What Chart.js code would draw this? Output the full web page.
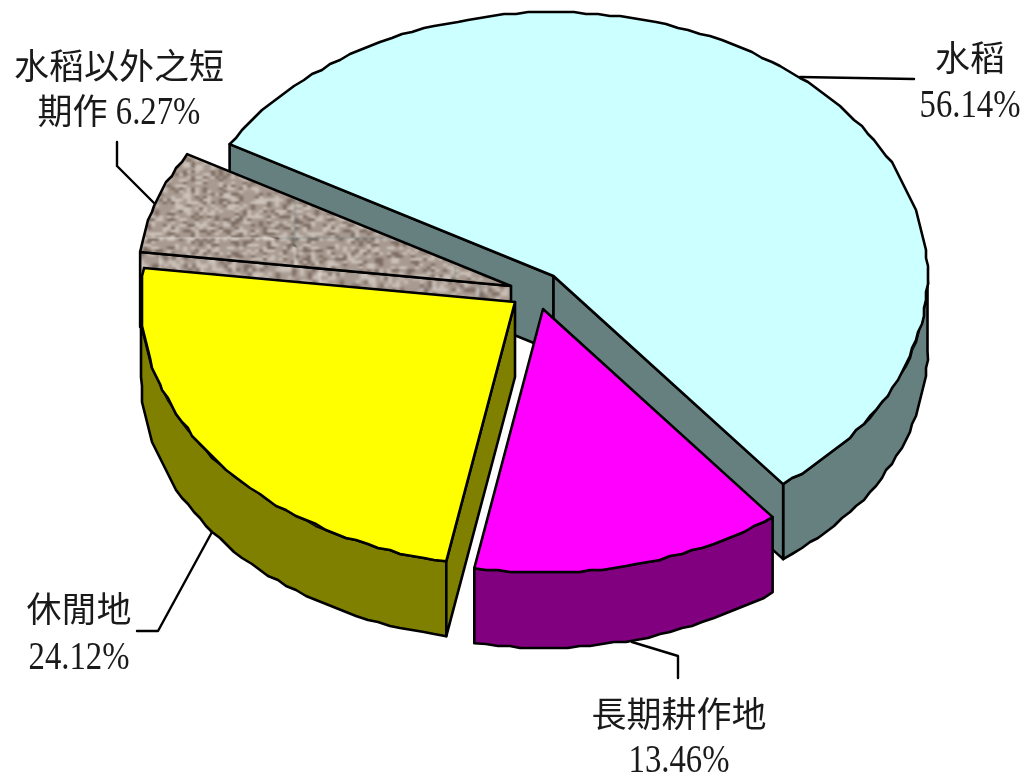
<!DOCTYPE html>
<html>
<head>
<meta charset="utf-8">
<style>html,body{margin:0;padding:0;background:#fff}canvas{display:block}</style>
<script src="https://cdn.jsdelivr.net/npm/chart.js@4"></script>
</head>
<body>
<canvas id="c" width="1024" height="776"></canvas>
<script>
// ---- data ----
const categories = ['水稻', '長期耕作地', '休閒地', '水稻以外之短期作'];
const shares = [56.14, 13.46, 24.12, 6.27];
const labelLines = [
  ['水稻', '56.14%'],
  ['長期耕作地', '13.46%'],
  ['休閒地', '24.12%'],
  ['水稻以外之短', '期作 6.27%']
];
// ---- layout and style ----
const topColors = ['#CCFFFF', '#FF00FF', '#FFFF00', null];
const sideColors = ['#668080', '#800080', '#808000', null];
const apexes = [[553.5, 276], [543, 309], [515, 302], [511, 286]];
const labelCentres = [[970, 71, 117], [679, 727, 772], [79, 622, 669], [119, 79, 124]];
const leaders = [
  [[800, 77], [914, 79]],
  [[632, 642], [678, 656], [678, 678]],
  [[212, 532], [158, 631], [137, 631]],
  [[155, 204], [117, 166], [117, 142]]
];
const RADIUS = 374, SQUASH = 0.705, DEPTH = 75, ROTATION = -60;
const paintOrder = [0, 3, 2, 1];

function granite() {
  const size = 160, c = document.createElement('canvas');
  c.width = c.height = size;
  const g = c.getContext('2d');
  const raw = document.createElement('canvas');
  raw.width = raw.height = size;
  const r = raw.getContext('2d');
  r.fillStyle = '#A89A90';
  r.fillRect(0, 0, size, size);
  let s = 12345;
  const next = () => { s = (s * 16807) % 2147483647; return s / 2147483647; };
  for (let y = 0; y < size; y += 4) for (let x = 0; x < size; x += 4) {
    const v = next();
    if (v < 0.2) r.fillStyle = '#7A6A60';
    else if (v > 0.72) r.fillStyle = '#CCC2BA';
    else continue;
    r.fillRect(x, y, 4, 4);
  }
  g.filter = 'blur(1.5px)';
  for (const dx of [-size, 0, size]) for (const dy of [-size, 0, size]) g.drawImage(raw, dx, dy);
  return g.createPattern(c, 'repeat');
}
const texture = granite();
const fills = topColors.map(c => c || texture);
const walls = sideColors.map(c => c || texture);

function edgePoints(a0, a1, apex, depth) {
  const pts = [];
  const n = Math.max(2, Math.round(Math.abs(a1 - a0) * RADIUS * 0.85 / 10));
  for (let i = 0; i <= n; i++) {
    const a = a0 + (a1 - a0) * i / n;
    let x = apex[0] + RADIUS * Math.cos(a);
    let y = apex[1] + RADIUS * SQUASH * Math.sin(a) + depth;
    if (i > 0 && i < n) { x = Math.round(x / 2) * 2; y = Math.round(y / 2) * 2; }
    pts.push([x, y]);
  }
  return pts;
}
function poly(ctx, pts, fill) {
  ctx.beginPath();
  pts.forEach((p, i) => i ? ctx.lineTo(p[0], p[1]) : ctx.moveTo(p[0], p[1]));
  ctx.closePath();
  if (fill) { ctx.fillStyle = fill; ctx.fill(); }
  ctx.stroke();
}
function radialFace(ctx, apex, a, fill) {
  const e = [apex[0] + RADIUS * Math.cos(a), apex[1] + RADIUS * SQUASH * Math.sin(a)];
  poly(ctx, [apex, e, [e[0], e[1] + DEPTH], [apex[0], apex[1] + DEPTH]], fill);
}
function drawRuns(ctx, text, cx, y) {
  const runs = text.match(/[\u2E80-\u9FFF]+|[^\u2E80-\u9FFF]+/g);
  const isCjk = t => /[\u2E80-\u9FFF]/.test(t);
  const LATIN_X = 0.84;
  const widthOf = t => {
    ctx.font = isCjk(t) ? '35px "Noto Sans CJK TC"' : '39px "Liberation Serif"';
    return ctx.measureText(t).width * (isCjk(t) ? 1 : LATIN_X);
  };
  let w = 0;
  runs.forEach(t => { w += widthOf(t); });
  let x = cx - w / 2;
  ctx.textAlign = 'left';
  ctx.textBaseline = 'alphabetic';
  runs.forEach(t => {
    const tw = widthOf(t);
    ctx.save();
    ctx.translate(x, y);
    if (!isCjk(t)) ctx.scale(LATIN_X, 1);
    ctx.fillText(t, 0, 0);
    ctx.restore();
    x += tw;
  });
}

const pie3d = {
  id: 'pie3d',
  beforeDatasetsDraw(chart) {
    const ctx = chart.ctx, arcs = chart.getDatasetMeta(0).data;
    ctx.save();
    ctx.lineJoin = 'round';
    ctx.lineCap = 'round';
    ctx.strokeStyle = '#000';
    ctx.lineWidth = 2.4;
    leaders.forEach(l => {
      ctx.beginPath();
      l.forEach((p, i) => i ? ctx.lineTo(p[0], p[1]) : ctx.moveTo(p[0], p[1]));
      ctx.stroke();
    });
    ctx.lineWidth = 2.6;
    paintOrder.forEach(i => {
      const arc = arcs[i], apex = apexes[i];
      const a0 = arc.startAngle, a1 = arc.endAngle;
      const TAU = Math.PI * 2;
      for (const k of [-1, 0, 1]) {
        const lo = Math.max(a0, k * TAU), hi = Math.min(a1, k * TAU + Math.PI);
        if (hi > lo) {
          const top = edgePoints(lo, hi, apex, 0);
          const bottom = edgePoints(lo, hi, apex, DEPTH).reverse();
          poly(ctx, top.concat(bottom), walls[i]);
        }
      }
      if (Math.sin(a0 - Math.PI / 2) > 0) radialFace(ctx, apex, a0, walls[i]);
      if (Math.sin(a1 + Math.PI / 2) > 0) radialFace(ctx, apex, a1, walls[i]);
      ctx.save();
      ctx.translate(apex[0], apex[1]);
      ctx.scale(1, SQUASH);
      ctx.translate(-arc.x, -arc.y);
      arc.draw(ctx);
      ctx.restore();
      poly(ctx, [apex].concat(edgePoints(a0, a1, apex, 0)), null);
    });
    ctx.fillStyle = '#1a1a1a';
    labelLines.forEach((lines, i) => {
      drawRuns(ctx, lines[0], labelCentres[i][0], labelCentres[i][1]);
      drawRuns(ctx, lines[1], labelCentres[i][0], labelCentres[i][2]);
    });
    ctx.restore();
    return false;
  }
};

new Chart(document.getElementById('c'), {
  type: 'pie',
  data: {
    labels: categories,
    datasets: [{ data: shares, backgroundColor: fills, borderWidth: 0 }]
  },
  options: {
    responsive: false,
    animation: false,
    rotation: ROTATION,
    radius: RADIUS,
    layout: { padding: { left: 162, right: 114, top: 14, bottom: 14 } },
    plugins: { legend: { display: false }, tooltip: { enabled: false }, title: { display: false } }
  },
  plugins: [pie3d]
});
</script>
</body>
</html>
